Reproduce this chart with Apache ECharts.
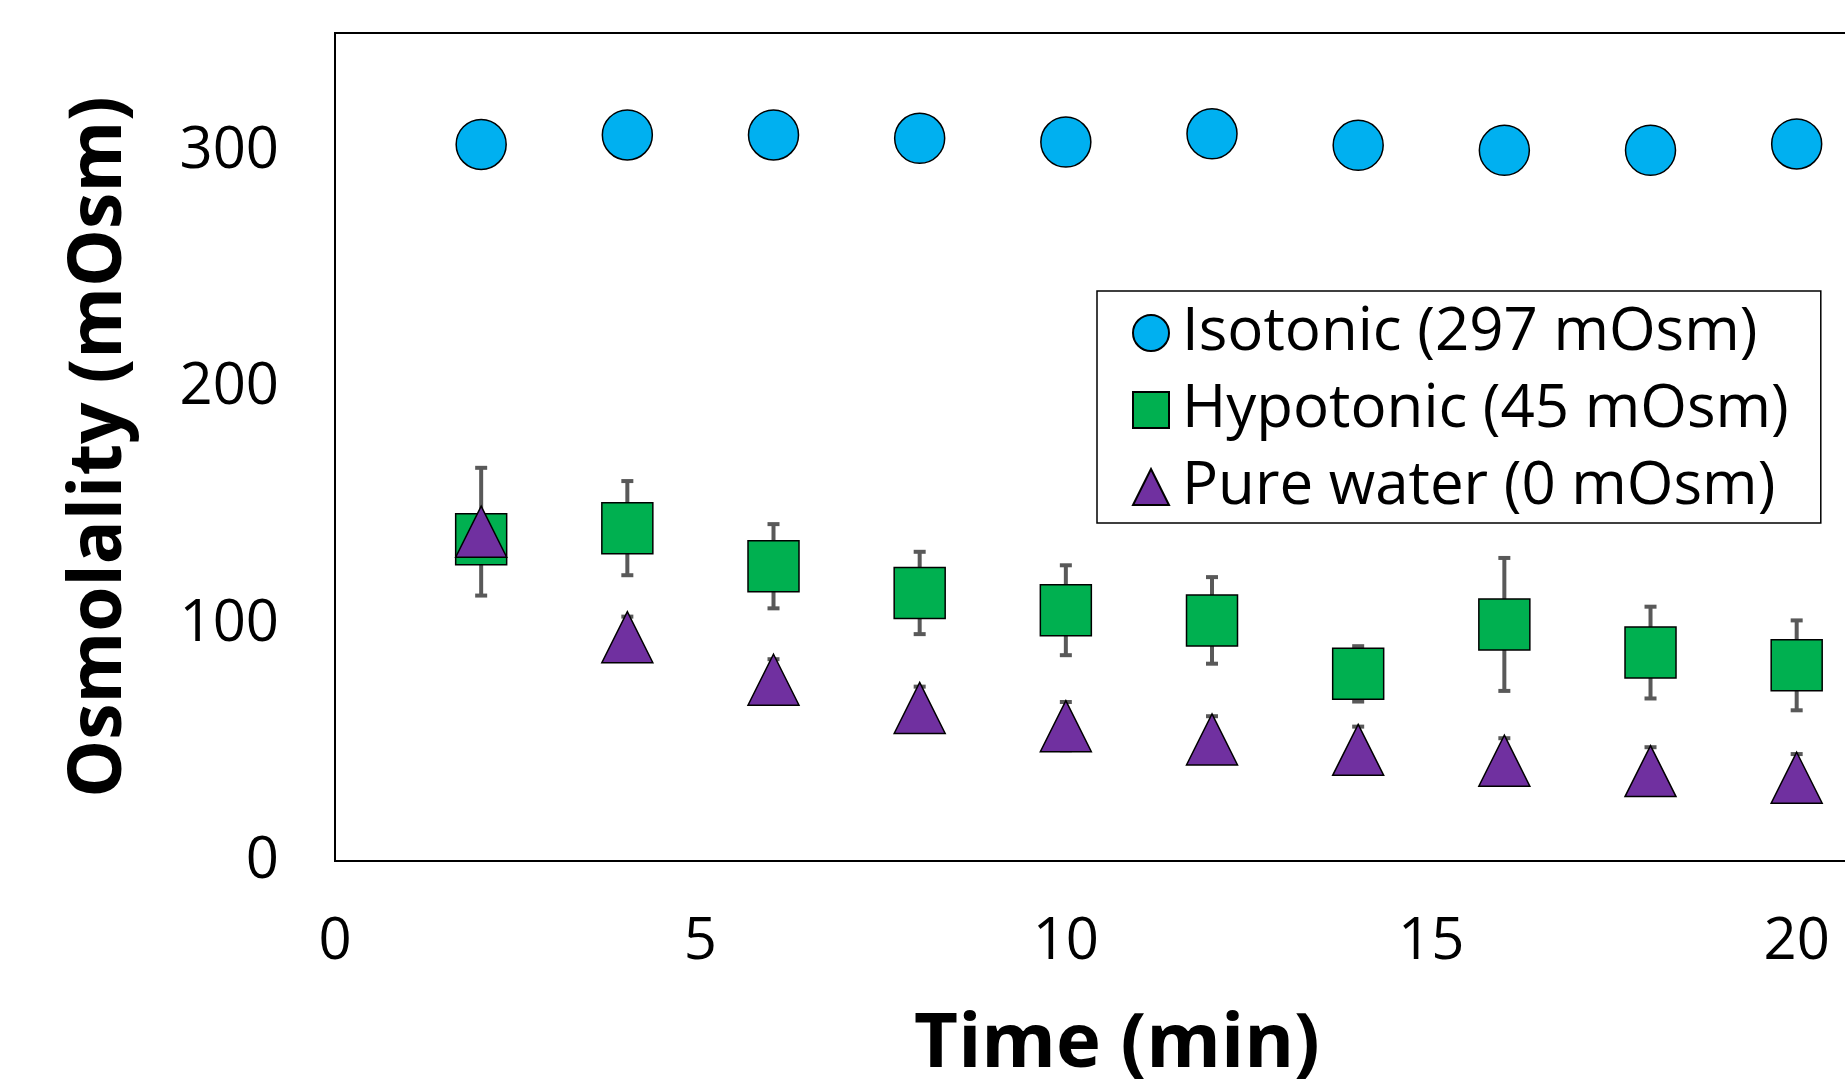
<!DOCTYPE html>
<html>
<head>
<meta charset="utf-8">
<script src="https://cdn.jsdelivr.net/npm/echarts@6/dist/echarts.min.js"></script>
<style>
  html, body { margin: 0; padding: 0; background: #fff; }
  #chart { width: 1845px; height: 1088px; }
</style>
</head>
<body>
<div id="chart"></div>
<script>
// time points (min)
const time = [2, 4, 6, 8, 10, 12, 14, 16, 18, 20];
// osmolality readings (mOsm) and error bar half-widths
const isotonic = [302.9, 306.9, 306.9, 305.5, 303.9, 307.4, 302.5, 300.4, 300.4, 303.1];
const hypotonic = [136.0, 140.7, 124.6, 113.3, 106.0, 101.7, 79.1, 100.0, 88.1, 82.7];
const hypotonicErr = [8, 19.9, 17.8, 17.4, 19.0, 18.3, 11.7, 28.1, 19.4, 19.0];
const pureWater = [139.2, 94.6, 76.6, 64.7, 57.0, 51.4, 47.0, 42.4, 38.0, 35.2];
const pureWaterErr = [27.0, 8.7, 8.7, 9.0, 10.2, 9.8, 9.8, 9.5, 10.1, 10.0];
const names = ["Isotonic (297 mOsm)", "Hypotonic (45 mOsm)", "Pure water (0 mOsm)"];
const colors = ["#00B0F0", "#00B050", "#7030A0"];

const font = "'Open Sans', 'Noto Sans', sans-serif";

function pairs(vals) {
  return time.map((t, i) => [t, vals[i]]);
}
function errData(vals, errs) {
  return time.map((t, i) => [t, vals[i] - errs[i], vals[i] + errs[i]]);
}

// error bar: stem + caps, drawn through the axis scales
function renderErr(params, api) {
  const x = api.value(0);
  const lo = api.coord([x, api.value(1)]);
  const hi = api.coord([x, api.value(2)]);
  const hw = 6;
  const style = { stroke: "#595959", lineWidth: 4 };
  return {
    type: "group",
    children: [
      { type: "line", shape: { x1: hi[0], y1: hi[1], x2: lo[0], y2: lo[1] }, style: style },
      { type: "line", shape: { x1: hi[0] - hw, y1: hi[1], x2: hi[0] + hw, y2: hi[1] }, style: style },
      { type: "line", shape: { x1: lo[0] - hw, y1: lo[1], x2: lo[0] + hw, y2: lo[1] }, style: style }
    ]
  };
}

const markerBorder = { borderColor: "#000", borderWidth: 1.5, opacity: 1 };

const option = {
  animation: false,
  backgroundColor: "#fff",
  grid: {
    left: 335,
    top: 33,
    bottom: 227,
    right: -54,
    outerBoundsMode: "none",
    show: true,
    borderColor: "#000",
    borderWidth: 2,
    backgroundColor: "transparent"
  },
  legend: {
    data: names,
    orient: "vertical",
    left: 1097,
    top: 291,
    padding: [12, 32, 6, 35],
    itemGap: 17,
    itemWidth: 36,
    itemHeight: 36,
    backgroundColor: "#fff",
    borderColor: "#000",
    borderWidth: 1.5,
    textStyle: {
      fontFamily: font,
      fontSize: 60,
      color: "#000",
      lineHeight: 60,
      padding: [0, 0, 0, 8]
    }
  },
  xAxis: {
    type: "value",
    min: 0,
    max: 21.4,
    interval: 5,
    name: "Time (min)",
    nameLocation: "middle",
    nameGap: 146,
    nameTextStyle: { fontFamily: font, fontSize: 76, fontWeight: "bold", color: "#000" },
    axisLine: { show: true, onZero: false, lineStyle: { color: "#000", width: 2 } },
    axisTick: { show: false },
    splitLine: { show: false },
    axisLabel: {
      fontFamily: font,
      fontSize: 58,
      color: "#000",
      margin: 52,
      showMaxLabel: false
    }
  },
  yAxis: {
    type: "value",
    min: 0,
    max: 350,
    interval: 100,
    name: "Osmolality (mOsm)",
    nameLocation: "middle",
    nameGap: 198,
    nameTextStyle: { fontFamily: font, fontSize: 73, fontWeight: "bold", color: "#000" },
    axisLine: { show: true, lineStyle: { color: "#000", width: 2 } },
    axisTick: { show: false },
    splitLine: { show: false },
    axisLabel: {
      fontFamily: font,
      fontSize: 58,
      color: "#000",
      margin: 56,
      showMaxLabel: false
    }
  },
  series: [
    {
      type: "custom",
      z: 1,
      renderItem: renderErr,
      data: errData(hypotonic, hypotonicErr),
      silent: true
    },
    {
      type: "custom",
      z: 1,
      renderItem: renderErr,
      data: errData(pureWater, pureWaterErr),
      silent: true
    },
    {
      name: names[0],
      type: "scatter",
      symbol: "circle",
      symbolSize: 50,
      itemStyle: Object.assign({ color: colors[0] }, markerBorder),
      data: pairs(isotonic)
    },
    {
      name: names[1],
      type: "scatter",
      symbol: "rect",
      symbolSize: 51,
      itemStyle: Object.assign({ color: colors[1] }, markerBorder),
      data: pairs(hypotonic)
    },
    {
      name: names[2],
      type: "scatter",
      symbol: "triangle",
      symbolSize: 51,
      itemStyle: Object.assign({ color: colors[2] }, markerBorder),
      data: pairs(pureWater)
    }
  ]
};

const chartObj = echarts.init(document.getElementById("chart"));
chartObj.setOption(option);
window.addEventListener("resize", function() {
  chartObj.resize();
});
</script>
</body>
</html>
